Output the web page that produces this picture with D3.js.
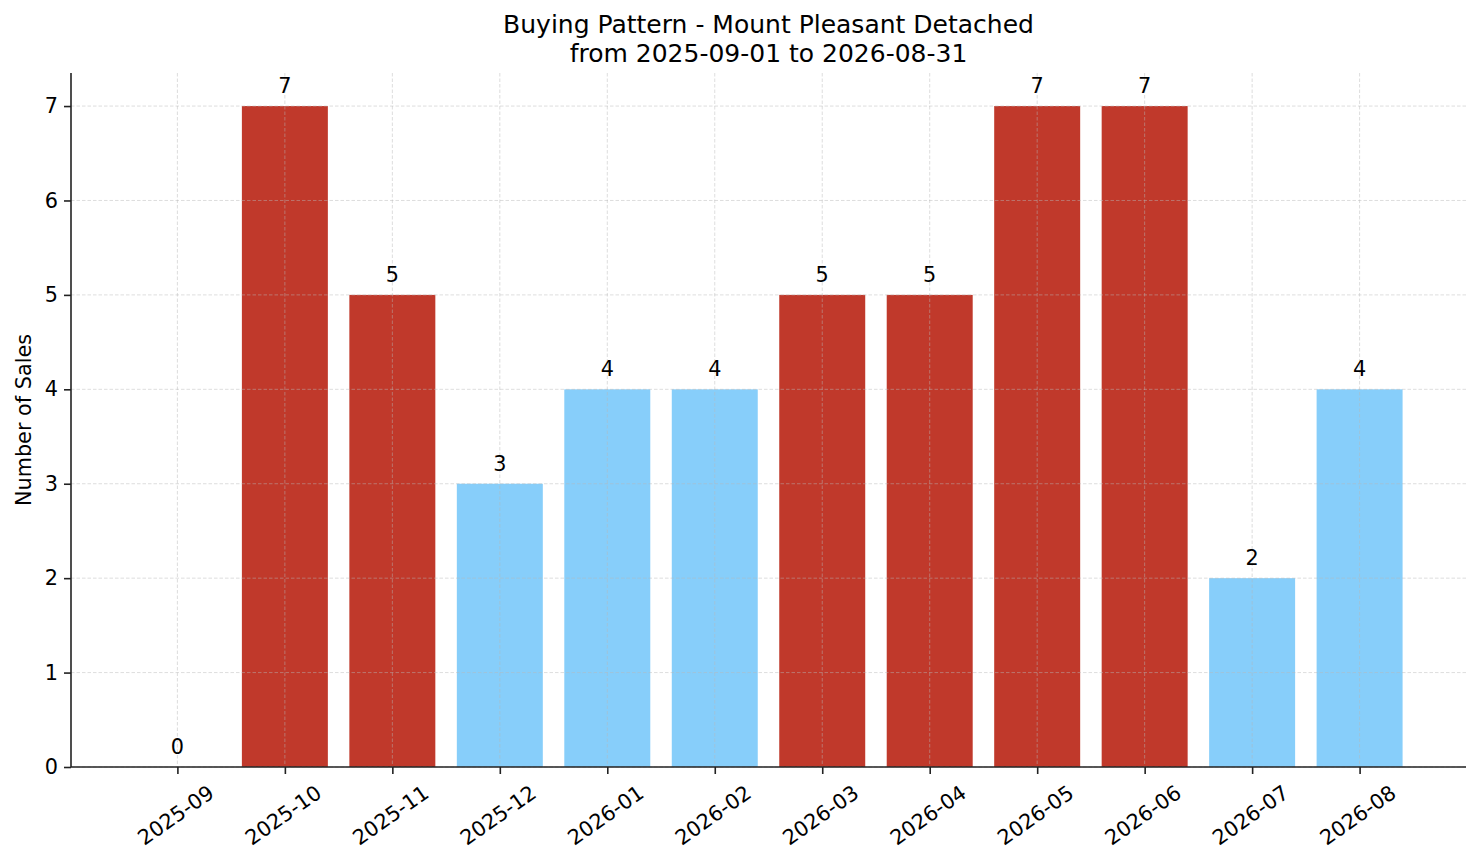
<!DOCTYPE html>
<html>
<head>
<meta charset="utf-8">
<script src="https://cdn.jsdelivr.net/npm/d3@7"></script>
<style>
  body { margin: 0; background: #fff; }
  text { font-family: "DejaVu Sans", sans-serif; fill: #000; }
</style>
</head>
<body>
<div id="chart"></div>
<script>
var months = ["2025-09","2025-10","2025-11","2025-12","2026-01","2026-02",
              "2026-03","2026-04","2026-05","2026-06","2026-07","2026-08"];
var sales = [0,7,5,3,4,4,5,5,7,7,2,4];
var yTicks = [0,1,2,3,4,5,6,7];
var titleLines = ["Buying Pattern - Mount Pleasant Detached", "from 2025-09-01 to 2026-08-31"];

var draw_chart = function(){
  var width = 1481, height = 863;
  var pLeft = 71, pRight = 1466, pTop = 73, pBottom = 767;
  var fs = 20.8;

  var svg = d3.select("#chart").append("svg")
      .attr("width", width)
      .attr("height", height);

  // matplotlib style margins: bars span -0.4..11.4, plus 5% padding
  var x = d3.scaleLinear().domain([-0.99, months.length - 1 + 0.99]).range([pLeft, pRight]);
  var y = d3.scaleLinear().domain([0, 7.35]).range([pBottom, pTop]);
  var bw = x(0.8) - x(0);

  var avg = d3.mean(sales);
  var color = function(d){ return d > avg ? "#c0392b" : "#87cefa"; };

  // bars
  svg.selectAll(".bar")
      .data(sales)
    .enter().append("rect")
      .attr("class", "bar")
      .attr("x", function(d,i){ return x(i) - bw/2; })
      .attr("y", function(d){ return y(d); })
      .attr("width", bw)
      .attr("height", function(d){ return y(0) - y(d); })
      .style("fill", color);

  // grid (drawn over bars)
  var grid = svg.append("g").attr("class", "grid")
      .attr("stroke", "#b8b8b8").attr("stroke-opacity", 0.6)
      .attr("stroke-width", 0.8).attr("stroke-dasharray", "3.5,2");
  grid.selectAll(".gx").data(months).enter().append("line")
      .attr("x1", function(d,i){ return x(i); }).attr("x2", function(d,i){ return x(i); })
      .attr("y1", pTop).attr("y2", pBottom);
  grid.selectAll(".gy").data(yTicks).enter().append("line")
      .attr("x1", pLeft).attr("x2", pRight)
      .attr("y1", function(d){ return y(d); }).attr("y2", function(d){ return y(d); });

  // value labels
  svg.selectAll(".val")
      .data(sales)
    .enter().append("text")
      .attr("class", "val")
      .attr("x", function(d,i){ return x(i); })
      .attr("y", function(d){ return y(d) - 13; })
      .attr("text-anchor", "middle")
      .style("font-size", fs + "px")
      .text(function(d){ return d; });

  // y axis
  var yAxis = svg.append("g")
      .attr("transform", "translate(" + pLeft + ",0)")
      .call(d3.axisLeft(y).tickValues(yTicks).tickSize(7).tickPadding(6).tickSizeOuter(0));
  yAxis.select(".domain").remove();
  yAxis.append("line").attr("x1", 0).attr("x2", 0).attr("y1", pTop).attr("y2", pBottom)
      .attr("stroke", "#222").attr("stroke-width", 1.6);
  yAxis.selectAll(".tick line").attr("stroke", "#222").attr("stroke-width", 1.6);
  yAxis.selectAll(".tick text").style("font-size", fs + "px").style("font-family", "DejaVu Sans").attr("fill", "#000");

  // x axis
  var xAxis = svg.append("g")
      .attr("transform", "translate(0," + pBottom + ")")
      .call(d3.axisBottom(x).tickValues(d3.range(months.length))
            .tickFormat(function(i){ return months[i]; }).tickSize(7).tickSizeOuter(0));
  xAxis.select(".domain").remove();
  xAxis.append("line").attr("x1", pLeft).attr("x2", pRight).attr("y1", 0).attr("y2", 0)
      .attr("stroke", "#222").attr("stroke-width", 1.6);
  xAxis.selectAll(".tick line").attr("stroke", "#222").attr("stroke-width", 1.6);
  var ang = 35 * Math.PI / 180;
  xAxis.selectAll(".tick text")
      .style("font-size", fs + "px").style("font-family", "DejaVu Sans").attr("fill", "#000")
      .attr("dy", null)
      .attr("dominant-baseline", "central")
      .attr("text-anchor", "middle")
      .each(function(){
        var w = this.getComputedTextLength();
        var h = fs * 0.75;
        var H = w * Math.sin(ang) + h * Math.cos(ang);
        var cy = 17 + H / 2;
        d3.select(this).attr("x", -2).attr("y", cy)
          .attr("transform", "rotate(-35,-2," + cy + ")");
      });

  // y label
  svg.append("text")
      .attr("transform", "translate(31," + ((pTop + pBottom) / 2) + ") rotate(-90)")
      .attr("text-anchor", "middle")
      .style("font-size", fs + "px")
      .text("Number of Sales");

  // title
  svg.selectAll(".title")
      .data(titleLines)
    .enter().append("text")
      .attr("class", "title")
      .attr("x", (pLeft + pRight) / 2)
      .attr("y", function(d,i){ return 33 + i * 29; })
      .attr("text-anchor", "middle")
      .style("font-size", "25px")
      .text(function(d){ return d; });
};

draw_chart();
</script>
</body>
</html>
